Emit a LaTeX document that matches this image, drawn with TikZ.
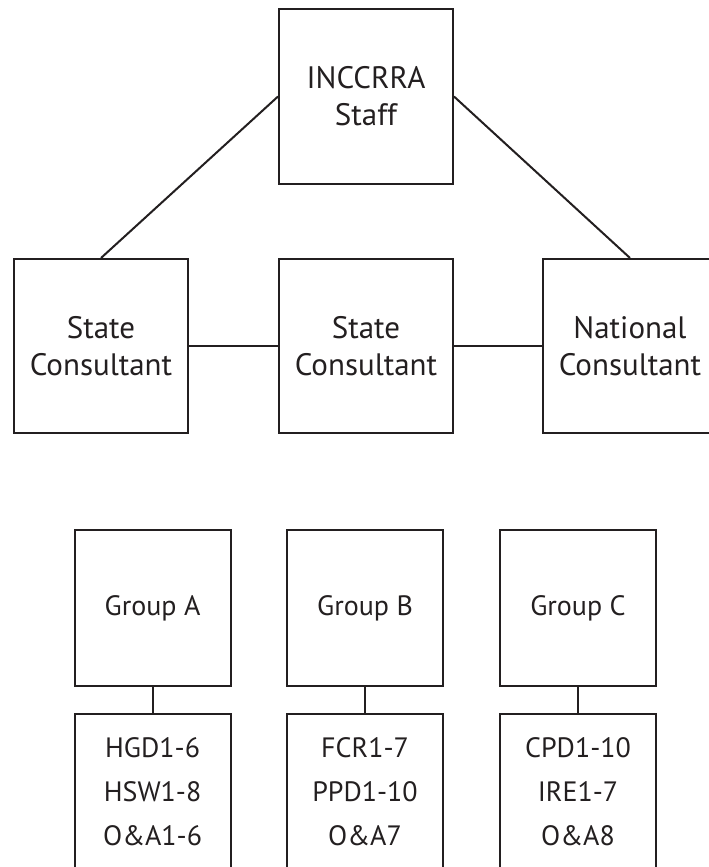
\documentclass[tikz,border=0pt]{standalone}
\usepackage{fontspec}
\setmainfont{PT Sans}
\definecolor{tinta}{HTML}{231F20}
\begin{document}
\begin{tikzpicture}[x=1pt,y=-1pt, line width=2pt, draw=tinta, text=tinta,
  caja/.style={draw, rectangle, minimum width=174pt, minimum height=174pt, inner sep=0pt, align=center, font=\fontsize{31}{37}\selectfont},
  grupo/.style={draw, rectangle, minimum width=156pt, minimum height=156pt, inner sep=0pt, align=center, font=\fontsize{28}{44}\selectfont}]
 \clip (0,0) rectangle (709,867);
 % upper level
 \node[caja] (staff) at (366,96.5) {INCCRRA\\Staff};
 \node[caja] (stateL) at (101,346) {State\\Consultant};
 \node[caja] (stateM) at (366,346) {State\\Consultant};
 \node[caja] (national) at (630,346) {National\\Consultant};
 \draw (staff.west) -- (stateL.north);
 \draw (staff.east) -- (national.north);
 \draw (stateL.east) -- (stateM.west);
 \draw (stateM.east) -- (national.west);
 % groups
 \node[grupo] (groupA) at (152.6,608) {Group A};
 \node[grupo] (groupB) at (365,608) {Group B};
 \node[grupo] (groupC) at (578,608) {Group C};
 \node[grupo] (listA) at (152.6,792) {HGD1-6\\HSW1-8\\O\&A1-6};
 \node[grupo] (listB) at (365,792) {FCR1-7\\PPD1-10\\O\&A7};
 \node[grupo] (listC) at (578,792) {CPD1-10\\IRE1-7\\O\&A8};
 \foreach \g in {A,B,C}{
 \draw (group\g.south) -- (list\g.north);}
\end{tikzpicture}
\end{document}
